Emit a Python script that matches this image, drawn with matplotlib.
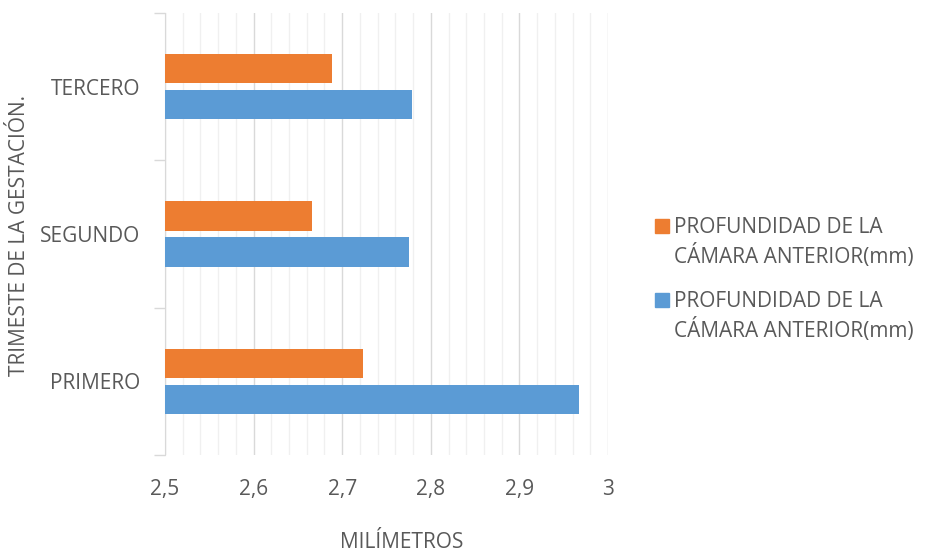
import numpy as np
import matplotlib
matplotlib.use("Agg")
import matplotlib.pyplot as plt
from matplotlib.patches import Rectangle
from matplotlib.ticker import MultipleLocator, FixedLocator

# ── Data ─────────────────────────────────────────────────────────────────
categories = ["PRIMERO", "SEGUNDO", "TERCERO"]
orange_vals = [2.723, 2.666, 2.689]
blue_vals = [2.967, 2.775, 2.779]
series_label = "PROFUNDIDAD DE LA\nCÁMARA ANTERIOR(mm)"

TXT = "#595959"
ORANGE = "#ED7D31"
BLUE = "#5B9BD5"
FS = 15
W, H = 926, 553
plt.rcParams["font.family"] = ["Open Sans", "DejaVu Sans"]

fig = plt.figure(figsize=(W / 100, H / 100), dpi=100)
ax = fig.add_axes([165 / W, 1 - 455 / H, 443 / W, 442 / H])

y = np.arange(len(categories))
h = 0.2
off = 0.122
ax.barh(y + off, orange_vals, height=h, left=0, color=ORANGE, zorder=3)
ax.barh(y - off, blue_vals, height=h, left=0, color=BLUE, zorder=3)

ax.set_xlim(2.5, 3.0)
ax.set_ylim(-0.5, len(categories) - 0.5)

ax.xaxis.set_major_locator(MultipleLocator(0.1))
ax.xaxis.set_minor_locator(MultipleLocator(0.02))
ax.grid(axis="x", which="major", color="#d9d9d9", lw=1.0, zorder=1)
ax.grid(axis="x", which="minor", color="#f0f0f0", lw=1.0, zorder=0)
ax.set_xticklabels([f"{v:g}".replace(".", ",") for v in ax.get_xticks()])
ax.tick_params(axis="x", which="both", length=0, labelsize=FS, colors=TXT, pad=17)

ax.set_yticks(y)
ax.set_yticklabels(categories)
ax.yaxis.set_minor_locator(FixedLocator(np.arange(-0.5, len(categories), 1.0)))
ax.tick_params(axis="y", which="major", length=0, labelsize=FS, colors=TXT, pad=18)
ax.tick_params(axis="y", which="minor", length=8, color="#d9d9d9", width=1)

for side in ["top", "right", "bottom"]:
    ax.spines[side].set_visible(False)
ax.spines["left"].set_color("#d9d9d9")

fig.text(402 / W, 1 - 542 / H, "MILÍMETROS", ha="center", va="center", fontsize=FS, color=TXT)
fig.text(20 / W, 1 - 236 / H, "TRIMESTE DE LA GESTACIÓN.", ha="center", va="center",
         rotation=90, fontsize=FS, color=TXT)

# legend drawn by hand: square sits next to the first line of each label
for color, top in [(ORANGE, 219), (BLUE, 293)]:
    fig.patches.append(Rectangle((655 / W, 1 - (top + 14) / H), 14 / W, 14 / H,
                                 transform=fig.transFigure, color=color))
    for i, line in enumerate(series_label.split("\n")):
        fig.text(674 / W, 1 - (top + 14 + 30 * i) / H, line, ha="left", va="baseline",
                 fontsize=FS, color=TXT)

fig.savefig("out.png", dpi=100)
